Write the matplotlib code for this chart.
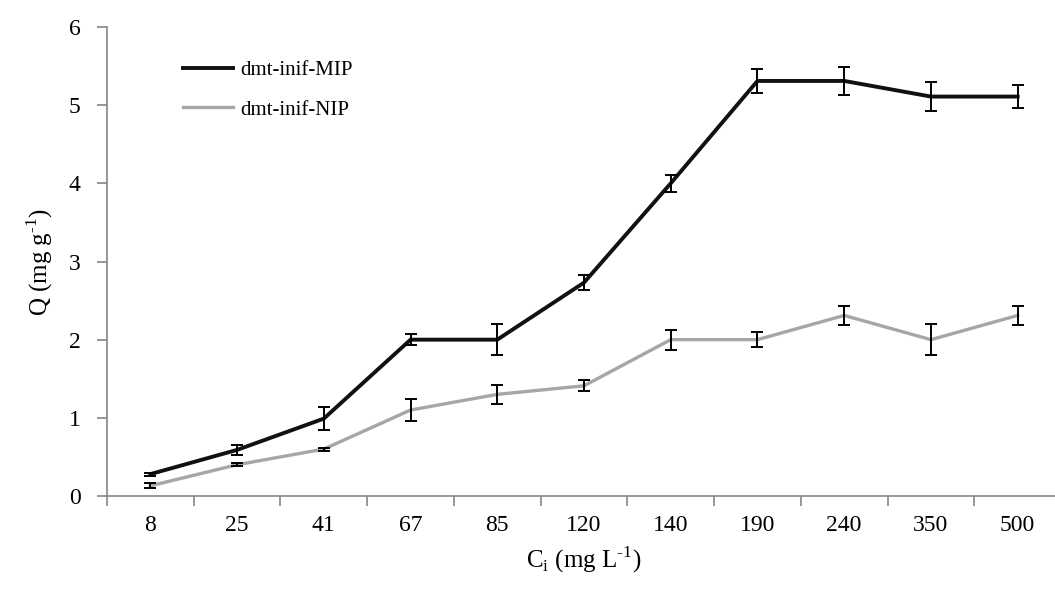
import numpy as np
import matplotlib
matplotlib.use('Agg')
import matplotlib.pyplot as plt

# datos
concentraciones = ['8', '25', '41', '67', '85', '120', '140', '190', '240', '350', '500']
q_mip = [0.28, 0.59, 0.99, 2.0, 2.0, 2.73, 4.0, 5.31, 5.31, 5.11, 5.11]
err_mip = [0.02, 0.065, 0.15, 0.07, 0.2, 0.1, 0.11, 0.15, 0.18, 0.18, 0.15]
q_nip = [0.13, 0.40, 0.60, 1.10, 1.30, 1.41, 2.0, 2.0, 2.31, 2.0, 2.31]
err_nip = [0.03, 0.02, 0.02, 0.14, 0.12, 0.07, 0.13, 0.1, 0.12, 0.2, 0.12]

plt.rcParams['font.family'] = ['Liberation Serif', 'DejaVu Serif']
plt.rcParams['mathtext.fontset'] = 'custom'
plt.rcParams['mathtext.rm'] = 'Liberation Serif'

fig = plt.figure(figsize=(10.55, 5.9), dpi=100)
ax = fig.add_axes([107/1055, 94/590, (1061-107)/1055, (496-27)/590])

x = np.arange(len(concentraciones))
gris_eje = '#868686'

ax.plot(x, q_mip, color='#111111', lw=2.8, label='dmt-inif-MIP', zorder=3)
ax.plot(x, q_nip, color='#A6A6A6', lw=2.4, label='dmt-inif-NIP', zorder=3)
ax.errorbar(x, q_mip, yerr=err_mip, fmt='none', ecolor='black', elinewidth=1.4,
            capsize=4.5, capthick=1.4, zorder=4)
ax.errorbar(x, q_nip, yerr=err_nip, fmt='none', ecolor='black', elinewidth=1.4,
            capsize=4.5, capthick=1.4, zorder=4)

ax.set_xlim(-0.5, len(concentraciones) - 0.5)
ax.set_ylim(0, 6)
ax.set_yticks(range(0, 7))

# ticks del eje x entre categorias
ax.set_xticks(x)
ax.set_xticklabels(concentraciones)
ax.set_xticks(np.arange(-0.5, len(concentraciones)), minor=True)
ax.tick_params(axis='x', which='major', length=0, pad=14, labelsize=17)
ax.tick_params(axis='x', which='minor', length=7, color=gris_eje, width=1.2)
ax.tick_params(axis='y', length=7, color=gris_eje, width=1.2, pad=12, labelsize=17)

for lado in ['top', 'right']:
    ax.spines[lado].set_visible(False)
for lado in ['left', 'bottom']:
    ax.spines[lado].set_color(gris_eje)
    ax.spines[lado].set_linewidth(1.2)

ax.set_ylabel('Q (mg g$^{\\text{-1}}$)', fontsize=18, labelpad=10)
ax.set_xlabel('C$_{\\mathrm{i}}$ (mg L$^{\\text{-1}}$)', fontsize=18, labelpad=6)

ax.legend(loc='upper left', bbox_to_anchor=(0.06, 0.968), frameon=False,
          fontsize=15, handlelength=2.4, handletextpad=0.35, labelspacing=0.95)

fig.savefig('out.png', dpi=100)
